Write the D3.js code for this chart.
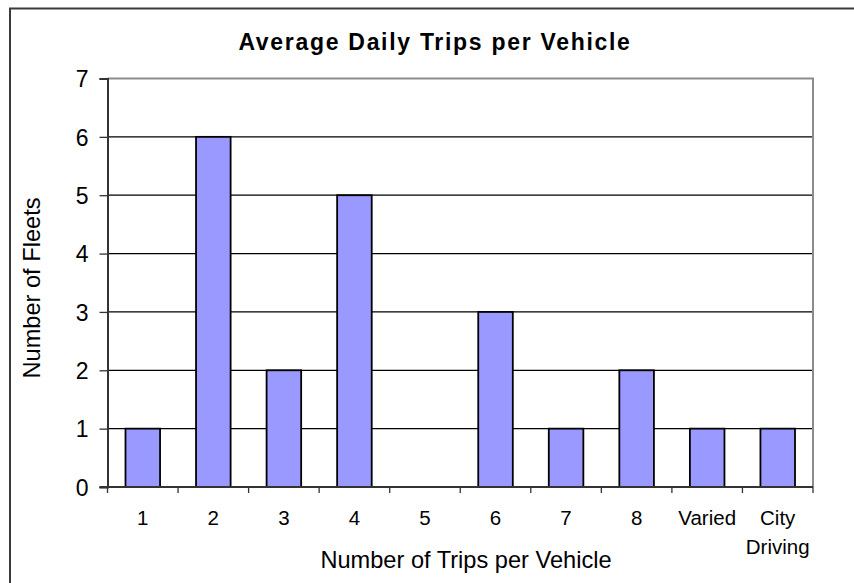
<!DOCTYPE html>
<html>
<head>
<meta charset="utf-8">
<script src="https://cdn.jsdelivr.net/npm/d3@7"></script>
<style>
  body { margin: 0; background: #fff; }
  svg { display: block; font-family: "Liberation Sans", Arial, sans-serif; }
</style>
</head>
<body>
<svg id="chart" width="854" height="583"></svg>
<script>
const categories = ["1", "2", "3", "4", "5", "6", "7", "8", "Varied", "City Driving"];
const fleets = [1, 6, 2, 5, 0, 3, 1, 2, 1, 1];
const yTicks = [0, 1, 2, 3, 4, 5, 6, 7];
const titleText = "Average Daily Trips per Vehicle";
const xTitle = "Number of Trips per Vehicle";
const yTitle = "Number of Fleets";

const svg = d3.select("#chart");
const plot = { left: 107.5, right: 813, top: 78.5, bottom: 487 };

// outer chart border (extends beyond visible area on right and bottom)
svg.append("rect")
  .attr("x", 10).attr("y", 8.5)
  .attr("width", 900).attr("height", 700)
  .attr("fill", "none").attr("stroke", "#3a3a3a").attr("stroke-width", 2);

const y = d3.scaleLinear().domain([0, 7]).range([plot.bottom, plot.top]);
const xCat = d3.scaleBand().domain(categories).range([plot.left, plot.right]).padding(0);
const xBar = d3.scaleBand().domain(categories).range([plot.left, plot.right])
  .paddingInner(0.51).paddingOuter(0.255);

// gridlines
svg.append("g").selectAll("line")
  .data(yTicks.filter(t => t > 0 && t < 7))
  .join("line")
  .attr("x1", plot.left).attr("x2", plot.right)
  .attr("y1", d => y(d)).attr("y2", d => y(d))
  .attr("stroke", "#000").attr("stroke-width", 1.3);

// plot border top & right (gray)
svg.append("path")
  .attr("d", `M${plot.left},${y(7)}H${plot.right}V${plot.bottom}`)
  .attr("fill", "none").attr("stroke", "#8c8c8c").attr("stroke-width", 2);

// bars
svg.append("g").selectAll("rect")
  .data(categories.map((c, i) => ({ c, v: fleets[i] })).filter(d => d.v > 0))
  .join("rect")
  .attr("x", d => xBar(d.c))
  .attr("y", d => y(d.v))
  .attr("width", xBar.bandwidth())
  .attr("height", d => y(0) - y(d.v))
  .attr("fill", "#9999ff")
  .attr("stroke", "#000").attr("stroke-width", 1.8);

// y axis
const yAxis = d3.axisLeft(y).tickValues(yTicks).tickSize(8).tickPadding(11).tickFormat(d3.format("d"));
const gy = svg.append("g").attr("transform", `translate(${plot.left},0)`).call(yAxis);
gy.select(".domain").attr("stroke", "#333").attr("stroke-width", 2);
gy.selectAll(".tick line").attr("stroke", "#333").attr("stroke-width", 1.3);
gy.selectAll(".tick text")
  .attr("font-size", 23).attr("fill", "#000")
  .attr("font-family", "Liberation Sans, Arial, sans-serif")
  .attr("dy", "0.36em");

// x axis line
svg.append("line")
  .attr("x1", plot.left - 8).attr("x2", plot.right)
  .attr("y1", plot.bottom).attr("y2", plot.bottom)
  .attr("stroke", "#333").attr("stroke-width", 2);

// x tick marks at category boundaries
const bounds = categories.map(c => xCat(c)).concat([plot.right]);
svg.append("g").selectAll("line")
  .data(bounds)
  .join("line")
  .attr("x1", d => d).attr("x2", d => d)
  .attr("y1", plot.bottom).attr("y2", plot.bottom + 6)
  .attr("stroke", "#333").attr("stroke-width", 1.3);

// x tick labels
const xl = svg.append("g").selectAll("text")
  .data(categories)
  .join("text")
  .attr("x", d => xCat(d) + xCat.bandwidth() / 2)
  .attr("y", 524.5)
  .attr("text-anchor", "middle")
  .attr("font-size", 20.5)
  .attr("fill", "#000");
xl.each(function(d) {
  const words = d.split(" ");
  const t = d3.select(this);
  words.forEach((w, i) => {
    t.append("tspan")
      .attr("x", xCat(d) + xCat.bandwidth() / 2)
      .attr("dy", i === 0 ? 0 : 29)
      .text(w);
  });
});

// title
svg.append("text")
  .attr("x", 435).attr("y", 50)
  .attr("text-anchor", "middle")
  .attr("font-size", 23).attr("font-weight", "bold")
  .attr("letter-spacing", 1.7)
  .attr("fill", "#000")
  .text(titleText);

// x axis title
svg.append("text")
  .attr("x", 466).attr("y", 568)
  .attr("text-anchor", "middle")
  .attr("font-size", 23.6)
  .attr("fill", "#000")
  .text(xTitle);

// y axis title
svg.append("text")
  .attr("transform", `translate(40,288) rotate(-90)`)
  .attr("text-anchor", "middle")
  .attr("font-size", 23.6)
  .attr("fill", "#000")
  .text(yTitle);
</script>
</body>
</html>
